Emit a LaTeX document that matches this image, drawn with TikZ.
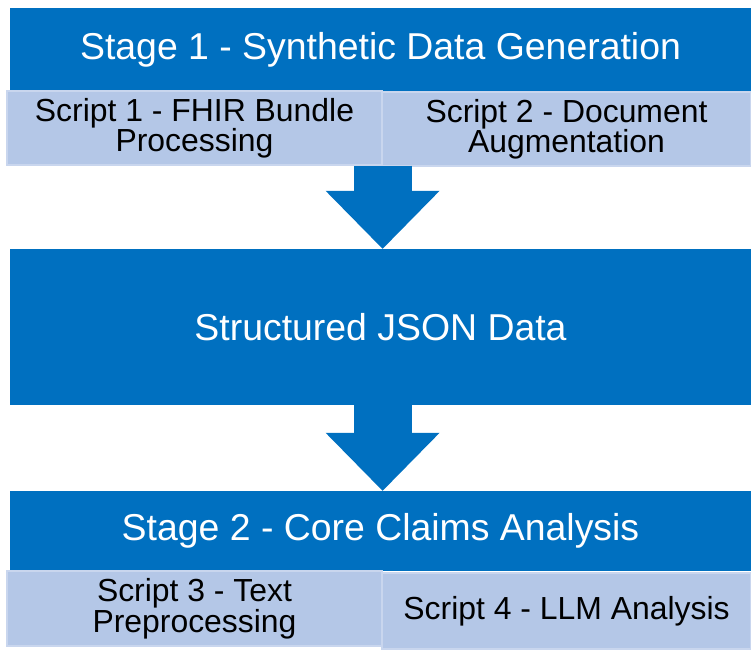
\documentclass[tikz,border=0pt]{standalone}
\usepackage{fontspec}
\setmainfont{Liberation Sans}
\usetikzlibrary{arrows.meta}
\definecolor{stageblue}{HTML}{0070C0}
\definecolor{scriptfill}{HTML}{B4C7E7}
\definecolor{scriptedge}{HTML}{C9D6EE}

\begin{document}
\begin{tikzpicture}[x=1pt, y=-1pt, %
      stage/.style={fill=stageblue, text=white, inner sep=0pt, font=\fontsize{37.4}{40}\selectfont}, %
      script/.style={fill=scriptfill, draw=scriptedge, line width=1.2pt, text=black, inner sep=0pt, align=center, font=\fontsize{31.9}{30.5}\selectfont}, %
      flow/.style={stageblue, line width=58pt, -{Triangle[width=114pt, length=58pt, line width=0pt]}}, %
      ]
    \useasboundingbox (0,0) rectangle (751,649);

    % blue stage boxes, then the script boxes under them
    \foreach \a/\sty/\x/\y/\w/\h/\txt in { %
      stone/stage/380.5/49.5/741/83/{Stage 1 - Synthetic Data Generation},%
      json/stage/380.5/327/741/156/{Structured JSON Data},%
      sttwo/stage/380.5/531/741/80/{Stage 2 - Core Claims Analysis},%
      scone/script/194.5/128/375/74/{Script 1 - FHIR Bundle\\Processing},%
      sctwo/script/566.5/129/369/74/{Script 2 - Document\\Augmentation},%
      scthree/script/194.5/608.5/375/75/{Script 3 - Text\\Preprocessing},%
      scfour/script/566.5/611/369/76/{Script 4 - LLM Analysis}%
    }{ %
      \node[\sty, minimum width=\w pt, minimum height=\h pt] (\a) at (\x,\y) {\txt};
      }

    \draw[flow] (scone.south east) -- (scone.south east |- json.north);
    \draw[flow] (scthree.north east |- json.south) -- (scthree.north east |- sttwo.north);
  \end{tikzpicture}
\end{document}
